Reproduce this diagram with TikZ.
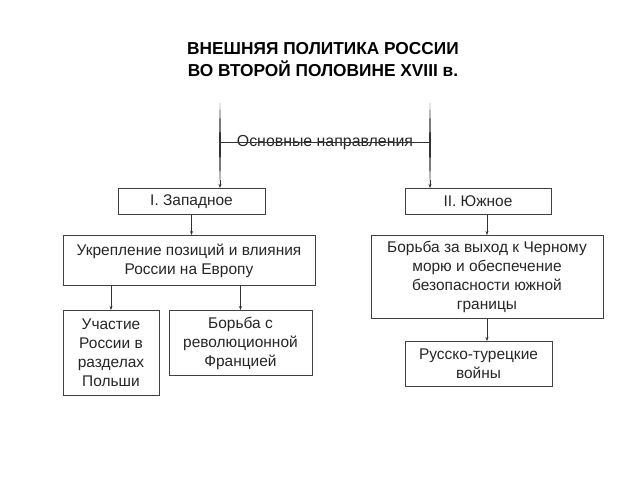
\documentclass[tikz,border=0pt]{standalone}
\usepackage{fontspec}
\setmainfont{Liberation Sans}
\usetikzlibrary{arrows.meta,positioning}

\begin{document}
\begin{tikzpicture}[x=0.025cm,y=-0.025cm,
  kasten/.style 2 args={draw=black!75,line width=0.6pt,align=center,inner sep=0pt,text=black!85,
    minimum width=#1*0.025cm,minimum height=#2*0.025cm,font=\fontsize{11}{13.5}\selectfont},
  pfeil/.style={-{Stealth[length=3pt,width=2.2pt]},line width=0.5pt,black!80}]
\useasboundingbox (0,0) rectangle (640,480);
%Ueberschrift
\node[align=center,font=\bfseries\fontsize{12.3}{15.6}\selectfont] (titel) at (323,60)
  {ВНЕШНЯЯ ПОЛИТИКА РОССИИ\\ВО ВТОРОЙ ПОЛОВИНЕ XVIII в.};
%Kaesten
\node[kasten={147}{26}] (zap) at (191.5,201.5) {I. Западное};
\node[kasten={146}{26}] (yug) at (478,201.5) {II. Южное};
\node[kasten={252}{50}] (ukr) at (189,260.5) {Укрепление позиций и влияния\\России на Европу};
\node[kasten={232}{83}] (bor) at (487,277) {Борьба за выход к Черному\\морю и обеспечение\\безопасности южной\\границы};
\node[kasten={96}{85}] (uch) at (111,353) {Участие\\России в\\разделах\\Польши};
\node[kasten={143}{65}] (fra) at (240.5,343) {Борьба с\\революционной\\Францией};
\node[kasten={147}{45}] (rus) at (478.5,364) {Русско-турецкие\\войны};
%Klammer oben
\node[inner sep=0pt,text=black!85,font=\fontsize{11.3}{13.5}\selectfont] (haupt) at (325,143) {Основные направления};
\foreach \xx/\ziel in {220/zap,430/yug}{
  \coordinate (o\ziel) at (\xx,103);
  \fill[black!80] (o\ziel) .. controls (\xx+1.1,130) and (\xx+1.1,160) .. (\xx,186)
    .. controls (\xx-1.1,160) and (\xx-1.1,130) .. (o\ziel);
  \draw[pfeil] (\xx,180) -- (\ziel.north -| o\ziel);
}
\draw[line width=0.6pt,black!80] (ozap |- 0,142) -- (oyug |- 0,142);
%Pfeile
\draw[pfeil] (zap.south) -- (zap.south |- ukr.north);
\draw[pfeil] (uch.north |- ukr.south) -- (uch.north);
\draw[pfeil] (fra.north |- ukr.south) -- (fra.north);
\draw[pfeil] (bor.north |- yug.south) -- (bor.north);
\draw[pfeil] (bor.south) -- (bor.south |- rus.north);
\end{tikzpicture}
\end{document}
